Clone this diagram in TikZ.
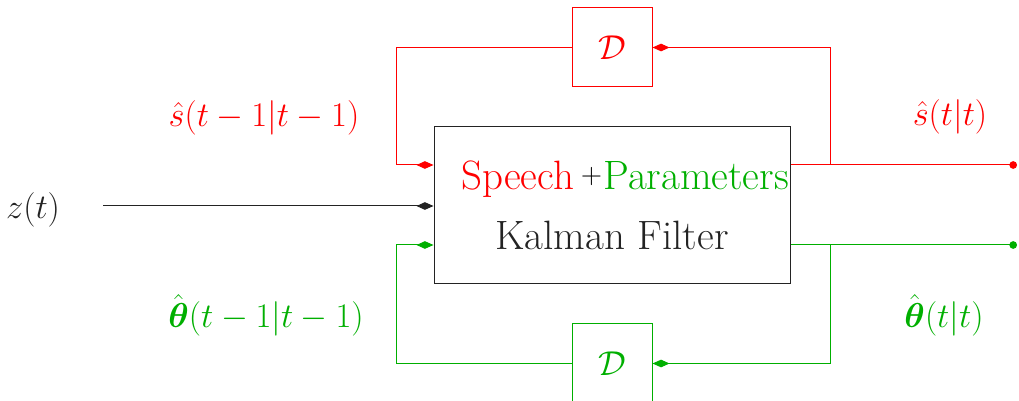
\documentclass[tikz,border=0pt]{standalone}
\usepackage{amsmath}
\usetikzlibrary{arrows.meta}
\definecolor{myred}{RGB}{255,0,0}
\definecolor{mygreen}{RGB}{0,175,0}
\definecolor{ink}{RGB}{35,35,35}
\begin{document}
\begin{tikzpicture}[x=0.5pt,y=-0.5pt,
  tip/.style={-{Kite[length=8.5pt,width=3.8pt,inset=4.2pt]}},
  dotend/.style={-{Circle[length=3.8pt]}},
  wire/.style={line width=0.5pt},
  big/.style={font=\fontsize{18.5}{28}\selectfont},
  kfont/.style={font=\fontsize{20.5}{28}\selectfont},
  dbox/.style={draw,line width=0.5pt,minimum width=40pt,minimum height=39.5pt,inner sep=0pt,font=\fontsize{18.5}{22}\selectfont}]
\useasboundingbox (0,0) rectangle (1019,401);
% main block
\node[draw=ink,line width=0.5pt,minimum width=178pt,minimum height=78.5pt,inner sep=0pt,
  kfont,align=center,text=ink] (kf) at (612,205.5)
  {\hspace{13pt}\raisebox{1pt}{\textcolor{myred}{Speech}\hspace{3.5pt}{\fontsize{14}{14}\selectfont\textcolor{black}{\raisebox{3pt}{+}}}\hspace{0.5pt}\textcolor{mygreen}{Parameters}}\\[1pt]Kalman Filter};
% delay blocks
\node[dbox,draw=myred,text=myred] (dt) at (612,47.5) {$\mathcal{D}$\hspace{8pt}};
\node[dbox,draw=mygreen,text=mygreen] (db) at (612,363.5) {$\mathcal{D}$\hspace{8pt}};
% coordinates
\coordinate (rs) at (830,165);
\coordinate (ro) at (1017,165);
\coordinate (rl) at (396,165);
\coordinate (gs) at (830,245);
\coordinate (go) at (1017,245);
\coordinate (gl) at (396,245);
\coordinate (zin) at (103,206);
% input
\node[big,text=ink] (z) at (33,210) {$z(t)$};
\draw[wire,ink,tip] (zin) -- (kf.west |- zin);
% red loop
\draw[wire,myred,dotend] (kf.east |- rs) -- (ro);
\draw[wire,myred,tip] (rs) |- (dt.east);
\draw[wire,myred,tip] (dt.west) -| (rl) -- (kf.west |- rl);
% green loop
\draw[wire,mygreen,dotend] (kf.east |- gs) -- (go);
\draw[wire,mygreen,tip] (gs) |- (db.east);
\draw[wire,mygreen,tip] (db.west) -| (gl) -- (kf.west |- gl);
% labels
\node[big,text=myred] (l1) at (264,118) {$\hat{s}(t-1|t-1)$};
\node[big,text=myred] (l2) at (950,117) {$\hat{s}(t|t)$};
\node[big,text=mygreen] (l3) at (266,315) {$\hat{\boldsymbol{\theta}}(t-1|t-1)$};
\node[big,text=mygreen] (l4) at (944,315) {$\hat{\boldsymbol{\theta}}(t|t)$};
\end{tikzpicture}
\end{document}
